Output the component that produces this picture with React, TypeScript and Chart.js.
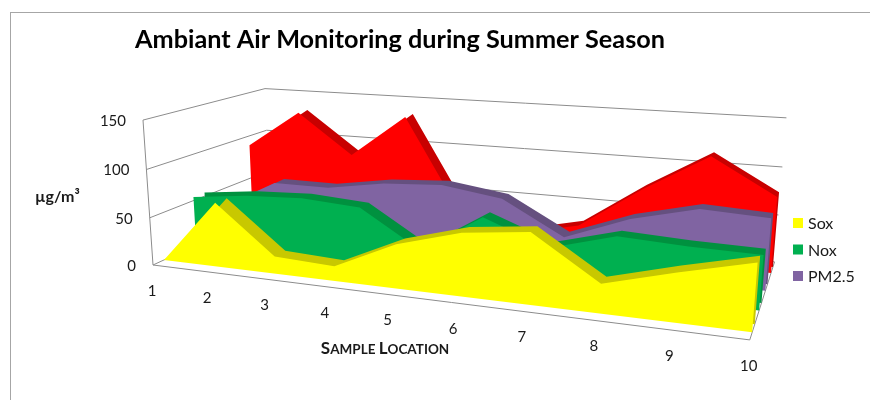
import React, { useEffect, useRef } from "react";
import { Chart, registerables } from "chart.js";

Chart.register(...registerables);

// ---------------- data ----------------
const categories = ["1", "2", "3", "4", "5", "6", "7", "8", "9", "10"];
const seriesNames = ["Sox", "Nox", "PM2.5", "PM10"];
const soxValues = [0, 67, 18, 15, 44, 62, 69, 28, 46, 62];
const noxValues = [54, 61, 64, 60, 22, 62, 38, 56, 53, 52];
const pm25Values = [30, 62, 62, 72, 76, 67, 33, 58, 74, 71];
const pm10Values = [89, 131, 87, 134, 30, 15, 30, 75, 114, 78];
const yTickValues = [0, 50, 100, 150];
const legendNames = ["Sox", "Nox", "PM2.5"];

const TITLE = "Ambiant Air Monitoring during Summer Season";
const Y_TITLE = "µg/m³";
const X_TITLE_PARTS: [string, boolean][] = [
  ["S", true],
  ["AMPLE ", false],
  ["L", true],
  ["OCATION", false],
];

// ---------------- styles ----------------
const faceColors = ["#FFFF00", "#00B050", "#8064A2", "#FF0000"];
const topColors = ["#C8C800", "#00913F", "#65507F", "#C80000"];
const FONT = "Lato, 'Liberation Sans', sans-serif";

// perspective of the 3-D box (pixel layout of the plot box)
const ORIGIN = { x: 153, y: 265 };
const VP_U = { x: -2476, y: -65 };
const VP_W = { x: 880, y: -70 };
const VP_V = { x: 436, y: 4370 };
const WU = -0.185;
const WW = 0.1916;
const WV = -0.0341;
const ROW = 0.25;
const FRONT_GAP = 0.08;
const THICK = 0.09;

function project(u: number, w: number, v: number) {
  const den = 1 + WU * u + WW * w + WV * v;
  return {
    x: (ORIGIN.x + WU * u * VP_U.x + WW * w * VP_W.x + WV * v * VP_V.x) / den,
    y: (ORIGIN.y + WU * u * VP_U.y + WW * w * VP_W.y + WV * v * VP_V.y) / den,
  };
}

function polygon(values: number[]) {
  const pts = [{ x: 1, y: 0 }];
  values.forEach((v, i) => pts.push({ x: i + 1, y: v }));
  pts.push({ x: values.length, y: 0 });
  return pts;
}

const allValues = [soxValues, noxValues, pm25Values, pm10Values];

const datasets: any[] = [];
allValues.forEach((vals, k) => {
  const front = FRONT_GAP + ROW * k;
  datasets.push({
    label: seriesNames[k],
    data: polygon(vals),
    backgroundColor: faceColors[k],
    borderColor: faceColors[k],
    depth: front,
    face: "front",
  });
  datasets.push({
    label: seriesNames[k] + " top",
    data: polygon(vals),
    backgroundColor: topColors[k],
    borderColor: topColors[k],
    depth: front + THICK,
    face: "back",
  });
});

const excel3d = {
  id: "excel3d",
  afterDatasetsUpdate(chart: any) {
    const xs = chart.scales.x;
    const ys = chart.scales.y;
    chart.data.datasets.forEach((ds: any, i: number) => {
      const meta = chart.getDatasetMeta(i);
      meta.data.forEach((pt: any) => {
        const u = xs.getDecimalForPixel(pt.x);
        const v = ys.getDecimalForPixel(pt.y);
        const p = project(u, ds.depth, v);
        pt.x = p.x;
        pt.y = p.y;
      });
    });
  },
  beforeDatasetsDraw(chart: any) {
    const ctx = chart.ctx as CanvasRenderingContext2D;
    const ys = chart.scales.y;
    ctx.save();
    // chart border
    ctx.strokeStyle = "#A6A6A6";
    ctx.lineWidth = 1;
    ctx.strokeRect(10.5, 12.5, 1000, 1000);

    ctx.strokeStyle = "#8C8C8C";
    const line = (a: any, b: any) => {
      ctx.beginPath();
      ctx.moveTo(a.x, a.y);
      ctx.lineTo(b.x, b.y);
      ctx.stroke();
    };
    ys.ticks.forEach((t: any) => {
      const v = ys.getDecimalForPixel(ys.getPixelForValue(t.value));
      const a = project(0, 0, v);
      const b = project(0, 1, v);
      const c = project(1, 1, v);
      ctx.beginPath();
      ctx.moveTo(a.x, a.y);
      ctx.lineTo(b.x, b.y);
      ctx.lineTo(c.x, c.y);
      ctx.stroke();
    });
    line(project(0, 0, 0), project(0, 0, 1));
    line(project(0, 0, 0), project(1, 0, 0));
    line(project(1, 0, 0), project(1, 1, 0));
    ctx.restore();
  },
  afterDatasetsDraw(chart: any) {
    const ctx = chart.ctx as CanvasRenderingContext2D;
    const xs = chart.scales.x;
    const ys = chart.scales.y;
    ctx.save();
    ctx.fillStyle = "#1A1A1A";
    // y tick labels
    ctx.font = `15px ${FONT}`;
    ctx.textAlign = "right";
    ctx.textBaseline = "middle";
    ys.ticks.forEach((t: any) => {
      const v = ys.getDecimalForPixel(ys.getPixelForValue(t.value));
      const p = project(0, 0, v);
      ctx.fillText(String(t.value), p.x - 17, p.y + 1);
    });
    // x tick labels
    ctx.textAlign = "center";
    xs.ticks.forEach((t: any) => {
      const u = xs.getDecimalForPixel(xs.getPixelForValue(t.value));
      const p = project(u, 0, 0);
      const lbl = categories[Math.round(t.value) - 1];
      if (lbl !== undefined) ctx.fillText(lbl, p.x - 1, p.y + 26);
    });
    // y title
    ctx.font = `bold 16px ${FONT}`;
    ctx.textAlign = "left";
    ctx.fillText(Y_TITLE, 35, 197);
    // x title in small caps
    const big = `bold 17px ${FONT}`;
    const small = `bold 13.5px ${FONT}`;
    let total = 0;
    X_TITLE_PARTS.forEach(([s, b]) => {
      ctx.font = b ? big : small;
      total += ctx.measureText(s).width;
    });
    let x = 385 - total / 2;
    ctx.textBaseline = "alphabetic";
    X_TITLE_PARTS.forEach(([s, b]) => {
      ctx.font = b ? big : small;
      ctx.fillText(s, x, 354);
      x += ctx.measureText(s).width;
    });
    // title
    ctx.fillStyle = "#000";
    ctx.font = `bold 22px ${FONT}`;
    const tw = ctx.measureText(TITLE).width;
    const size = Math.min(26, 22 * (530 / tw));
    ctx.font = `bold ${size.toFixed(2)}px ${FONT}`;
    ctx.textAlign = "center";
    ctx.fillText(TITLE, 400, 48);
    // legend
    ctx.font = `16px ${FONT}`;
    ctx.textAlign = "left";
    ctx.textBaseline = "middle";
    let row = 0;
    chart.data.datasets.forEach((ds: any) => {
      if (ds.face !== "front" || legendNames.indexOf(ds.label) < 0) return;
      const cy = 223 + row * 26.5;
      ctx.fillStyle = ds.backgroundColor;
      ctx.fillRect(793, cy - 5, 10, 10);
      ctx.fillStyle = "#1A1A1A";
      ctx.fillText(ds.label, 808, cy + 1);
      row++;
    });
    ctx.restore();
  },
};

export default function App() {
  const ref = useRef<HTMLCanvasElement>(null);
  useEffect(() => {
    const canvas = ref.current;
    if (!canvas) return;
    const chart = new Chart(canvas, {
      type: "line",
      data: { datasets },
      options: {
        responsive: false,
        animation: false,
        events: [],
        layout: { padding: 0 },
        elements: {
          line: { borderWidth: 0, tension: 0, fill: "shape", borderDash: [1, 0] },
          point: { radius: 0 },
        },
        plugins: {
          legend: { display: false },
          title: { display: false },
          tooltip: { enabled: false },
        },
        scales: {
          x: {
            type: "linear",
            min: 1,
            max: categories.length,
            display: false,
            ticks: { stepSize: 1 },
          },
          y: {
            type: "linear",
            min: yTickValues[0],
            max: yTickValues[yTickValues.length - 1],
            display: false,
            ticks: { stepSize: yTickValues[1] - yTickValues[0] },
          },
        },
      } as any,
      plugins: [excel3d],
    });
    return () => chart.destroy();
  }, []);
  return (
    <div style={{ position: "fixed", left: 0, top: 0, width: 870, height: 400, background: "#fff" }}>
      <canvas ref={ref} width={870} height={400} style={{ display: "block" }} />
    </div>
  );
}
